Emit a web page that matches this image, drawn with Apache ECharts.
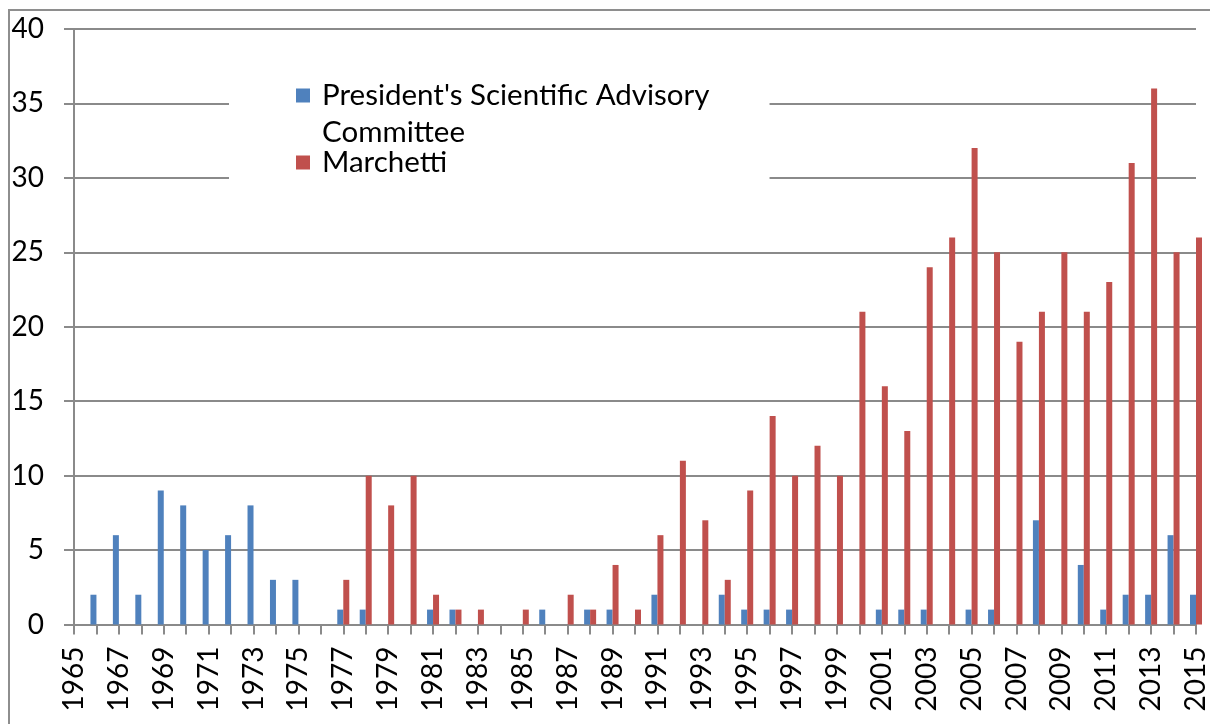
<!DOCTYPE html>
<html>
<head>
<meta charset="utf-8">
<title>PSAC vs Marchetti</title>
<script src="https://cdn.jsdelivr.net/npm/echarts@6/dist/echarts.min.js"></script>
<style>
  html, body { margin: 0; padding: 0; background: #fff; }
  #frame { position: absolute; left: 8px; top: 9px; width: 1300px; height: 800px; border: 2px solid #8e8e8e; }
  #chart { position: absolute; left: 0; top: 0; width: 1210px; height: 724px; }
</style>
</head>
<body>
<div id="frame"></div>
<div id="chart"></div>
<script>
// categories (one per year)
const years = [
  "1965", "1966", "1967", "1968", "1969", "1970", "1971", "1972", "1973", "1974",
  "1975", "1976", "1977", "1978", "1979", "1980", "1981", "1982", "1983", "1984",
  "1985", "1986", "1987", "1988", "1989", "1990", "1991", "1992", "1993", "1994",
  "1995", "1996", "1997", "1998", "1999", "2000", "2001", "2002", "2003", "2004",
  "2005", "2006", "2007", "2008", "2009", "2010", "2011", "2012", "2013", "2014",
  "2015"
];

const psacName = "President's Scientific Advisory Committee";
const psac = [
  0, 2, 6, 2, 9, 8, 5, 6, 8, 3,
  3, 0, 1, 1, 0, 0, 1, 1, 0, 0,
  0, 1, 0, 1, 1, 0, 2, 0, 0, 2,
  1, 1, 1, 0, 0, 0, 1, 1, 1, 0,
  1, 1, 0, 7, 0, 4, 1, 2, 2, 6,
  2
];

const marchettiName = "Marchetti";
const marchetti = [
  0, 0, 0, 0, 0, 0, 0, 0, 0, 0,
  0, 0, 3, 10, 8, 10, 2, 1, 1, 0,
  1, 0, 2, 1, 4, 1, 6, 11, 7, 3,
  9, 14, 10, 12, 10, 21, 16, 13, 24, 26,
  32, 25, 19, 21, 25, 21, 23, 31, 36, 25,
  26
];

const FONT = "Lato";
const lineColor = "#8a8a8a";

const chart = echarts.init(document.getElementById("chart"));

const option = {
  animation: false,
  backgroundColor: "transparent",
  grid: {
    left: 74,
    right: 14,
    top: 29,
    bottom: 99.5,
    containLabel: false,
    outerBoundsMode: "none"
  },
  legend: [
    {
      data: [psacName],
      left: 229,
      top: 40,
      padding: [0, 60, 47, 67],
      backgroundColor: "#fff",
      z: 3,
      icon: "rect",
      itemWidth: 14,
      itemHeight: 14,
      // empty first line keeps the icon level with the first text line
      formatter: name => "\n" + name.replace(" Committee", "\nCommittee"),
      textStyle: {
        fontFamily: FONT,
        fontSize: 29.5,
        lineHeight: 37,
        padding: [0, 0, 0, 7],
        color: "#000"
      }
    },
    {
      data: [marchettiName],
      left: 296,
      top: 144,
      z: 4,
      padding: 0,
      icon: "rect",
      itemWidth: 14,
      itemHeight: 14,
      textStyle: {
        fontFamily: FONT,
        fontSize: 29.5,
        lineHeight: 37,
        padding: [0, 0, 0, 7],
        color: "#000"
      }
    }
  ],
  xAxis: {
    type: "category",
    data: years,
    boundaryGap: false,
    axisLine: { lineStyle: { color: lineColor, width: 2 } },
    axisTick: { show: true, interval: 0, length: 10, lineStyle: { color: lineColor, width: 2 } },
    axisLabel: {
      interval: 1,
      rotate: 90,
      margin: 22,
      fontFamily: FONT,
      fontSize: 28,
      color: "#000"
    },
    splitLine: { show: false }
  },
  yAxis: {
    type: "value",
    min: 0,
    max: 40,
    interval: 5,
    axisLine: { show: true, lineStyle: { color: lineColor, width: 2 } },
    axisTick: { show: true, length: 10, lineStyle: { color: lineColor, width: 2 } },
    axisLabel: {
      margin: 30,
      fontFamily: FONT,
      fontSize: 28,
      color: "#000"
    },
    splitLine: { show: true, lineStyle: { color: lineColor, width: 2 } }
  },
  series: [
    {
      name: psacName,
      type: "bar",
      data: psac,
      barWidth: 6,
      barGap: "0%",
      clip: true,
      itemStyle: { color: "#4f81bd" }
    },
    {
      name: marchettiName,
      type: "bar",
      data: marchetti,
      barWidth: 6,
      barGap: "0%",
      clip: true,
      itemStyle: { color: "#c0504d" }
    }
  ]
};

chart.setOption(option);
window.addEventListener("resize", () => {
  chart.resize();
});
</script>
</body>
</html>
